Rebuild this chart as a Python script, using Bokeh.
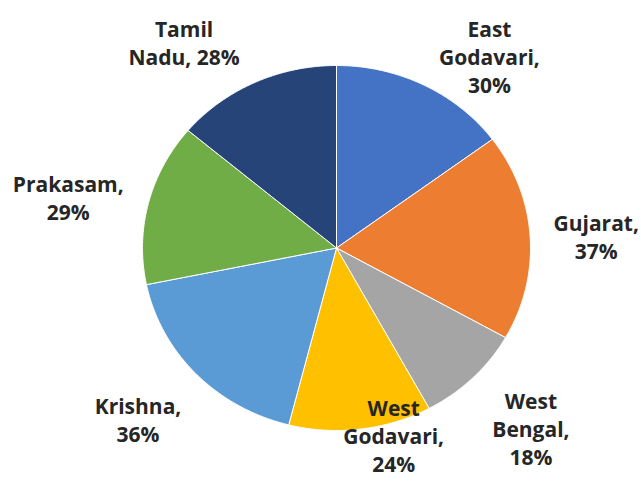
import numpy as np
from bokeh.plotting import figure
from bokeh.models import Range1d, ColumnDataSource
from bokeh.core.properties import value
from bokeh.embed import file_html
from bokeh.resources import INLINE

# ---- data ----
regions = ["East Godavari", "Gujarat", "West Bengal", "West Godavari",
           "Krishna", "Prakasam", "Tamil Nadu"]
percent = [30, 37, 18, 24, 36, 29, 28]
label_text = ["East\nGodavari,\n30%", "Gujarat,\n37%", "West\nBengal,\n18%",
              "West\nGodavari,\n24%", "Krishna,\n36%", "Prakasam,\n29%",
              "Tamil\nNadu, 28%"]
colors = ["#4472C4", "#ED7D31", "#A5A5A5", "#FFC000", "#5B9BD5", "#70AD47", "#264478"]

# ---- layout (canvas pixel coordinates, y downwards) ----
W, H = 641, 481
cx, cy = 336, 247.5
rx, ry = 194, 182.5
# label placement: angle (deg, clockwise from top) and radial factor
label_angle = [37, 87.5, 134.7, 164, 227.4, 281.3, 325]
label_dist = [1.31, 1.34, 1.41, 1.07, 1.39, 1.41, 1.37]

vals = np.array(percent, dtype=float)
frac = vals / vals.sum()
ends = np.cumsum(frac) * 2 * np.pi
starts = ends - frac * 2 * np.pi

xs, ys = [], []
for s, e in zip(starts, ends):
    t = np.linspace(s, e, 120)
    xs.append(np.concatenate([[cx], cx + rx * np.sin(t)]).tolist())
    ys.append(np.concatenate([[cy], cy - ry * np.cos(t)]).tolist())

src = ColumnDataSource(dict(xs=xs, ys=ys, color=colors, region=regions))

la = np.radians(label_angle)
ld = np.array(label_dist)
lsrc = ColumnDataSource(dict(
    x=(cx + rx * ld * np.sin(la)).tolist(),
    y=(cy - ry * ld * np.cos(la)).tolist(),
    text=label_text))

p = figure(width=W, height=H, output_backend="svg", toolbar_location=None,
           x_range=Range1d(0, W), y_range=Range1d(H, 0),
           min_border=0, outline_line_color=None)
p.axis.visible = False
p.grid.visible = False
p.background_fill_color = "white"
p.border_fill_color = "white"

p.patches("xs", "ys", source=src, fill_color="color", line_color="white",
          line_width=1)

p.text("x", "y", text="text", source=lsrc, text_align="center",
       text_baseline="middle", text_font=value("Open Sans"),
       text_font_style="bold", text_font_size="21px", text_color="#262626",
       text_line_height=1.0)

open("out.html", "w").write(file_html(p, INLINE))
